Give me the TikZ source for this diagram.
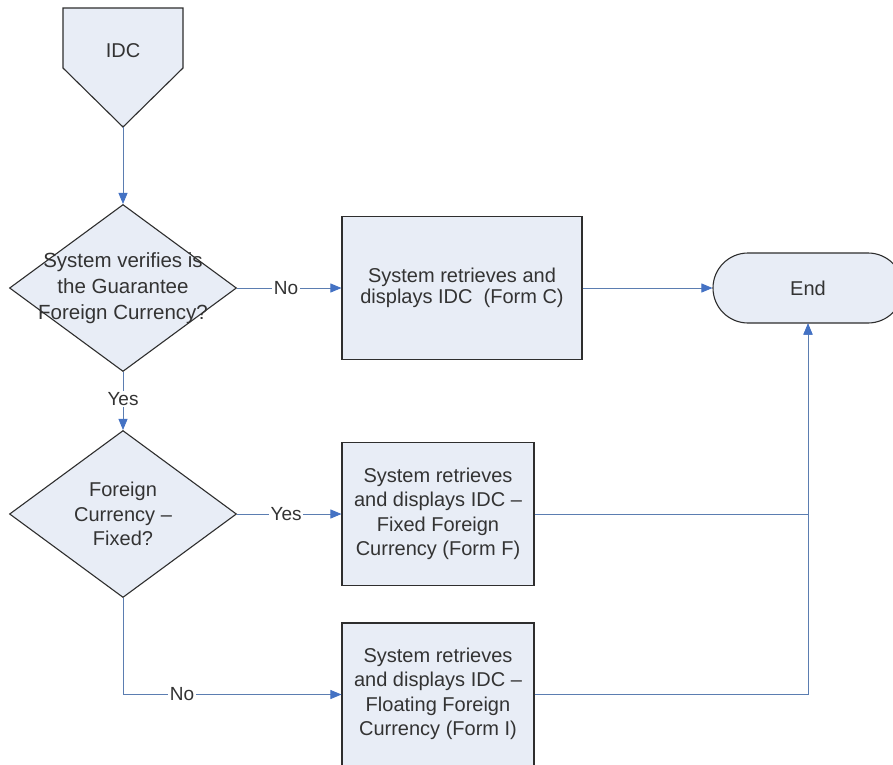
\documentclass[tikz,border=0pt]{standalone}
\usepackage{fontspec}
\setmainfont{Liberation Sans}
\usetikzlibrary{shapes.geometric,arrows.meta}
\definecolor{shapefill}{HTML}{E8EDF6}
\definecolor{linec}{HTML}{5B7DB1}
\definecolor{arrowc}{HTML}{4472C4}
\definecolor{borderc}{HTML}{2E2E2E}
\definecolor{textc}{HTML}{333333}
\tikzset{
  txt/.style={font=\fontsize{20}{24.5}\selectfont, text=textc, align=center, inner sep=0pt},
  shapeline/.style={draw=borderc, line width=1.1pt, fill=shapefill},
  proc/.style={shapeline, rectangle, minimum width=#1, minimum height=143pt, inner sep=0pt},
  dia/.style={shapeline, diamond, minimum width=227pt, minimum height=167pt, inner sep=0pt},
  term/.style={shapeline, rectangle, rounded corners=35pt, minimum width=190pt, minimum height=70pt, inner sep=0pt},
  conn/.style={draw=linec, line width=0.8pt, -{Triangle[length=11pt,width=9pt,color=arrowc]}},
  lbl/.style={txt, font=\fontsize{19}{22}\selectfont, fill=white, inner sep=1.5pt}
}
\begin{document}
\begin{tikzpicture}[x=1pt,y=-1pt]
\clip (0,0) rectangle (893,764);
\fill[white] (0,0) rectangle (893,764);

% IDC off-page connector
\draw[shapeline] (63,8) -- (183,8) -- (183,68) -- (123,127) -- (63,68) -- cycle;
\node[txt] (idc) at (123,51) {IDC};
\coordinate (idctip) at (123,127);

% decisions
\node[dia] (d1) at (123,288) {};
\node[txt, font=\fontsize{20.5}{26}\selectfont] (d1t) at (123,288) {System verifies is\\the Guarantee\\Foreign Currency?};
\node[dia] (d2) at (123,514) {};
\node[txt] (d2t) at (123,514) {Foreign\\Currency --\\Fixed?};

% processes
\node[proc=240pt] (r1) at (462,288) {};
\node[txt, font=\fontsize{20}{21}\selectfont] (r1t) at (462,288) {System retrieves and\\displays IDC\ \ (Form C)};
\node[proc=192pt] (r2) at (438,514) {};
\node[txt] (r2t) at (438,514) {System retrieves\\and displays IDC --\\Fixed Foreign\\Currency (Form F)};
\node[proc=192pt] (r3) at (438,694.5) {};
\node[txt] (r3t) at (438,694) {System retrieves\\and displays IDC --\\Floating Foreign\\Currency (Form I)};

% terminator
\node[term] (end) at (808,288) {};
\node[txt] (endt) at (808,288) {End};

% connectors
\draw[conn] (idctip) -- (d1.north);
\draw[conn] (d1.east) -- node[lbl, pos=0.47] {No} (r1.west);
\draw[conn] (r1.east) -- (end.west);
\draw[conn] (d1.south) -- node[lbl, pos=0.47] {Yes} (d2.north);
\draw[conn] (d2.east) -- node[lbl, pos=0.47] {Yes} (r2.west);
\draw[conn] (d2.south) |- node[lbl, pos=0.635] {No} (r3.west);
\draw[conn] (r2.east) -| (end.south);
\draw[conn] (r3.east) -| (end.south);
\end{tikzpicture}
\end{document}
